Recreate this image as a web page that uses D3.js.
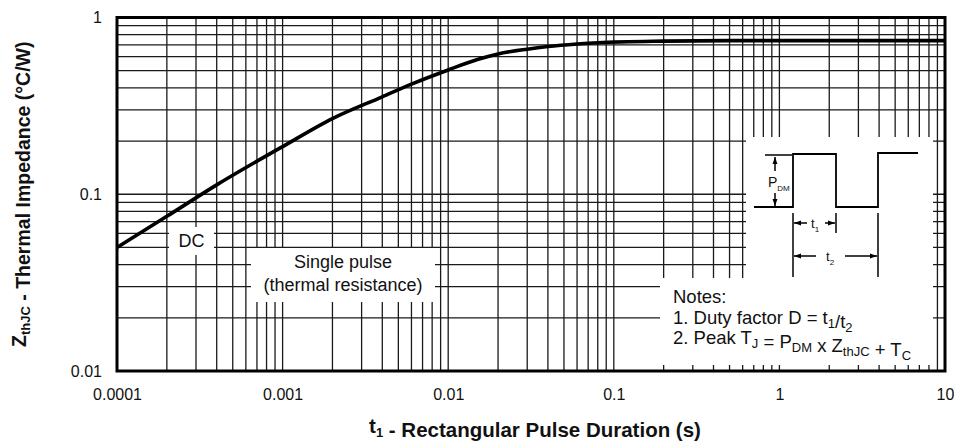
<!DOCTYPE html>
<html>
<head>
<meta charset="utf-8">
<script src="https://cdn.jsdelivr.net/npm/d3@7"></script>
<style>
  body { margin: 0; background: #fff; }
  text { font-family: "Liberation Sans", Arial, Helvetica, sans-serif; fill: #111; }
</style>
</head>
<body>
<div id="container"></div>
<script>
// values
const xTickValues = [0.0001, 0.001, 0.01, 0.1, 1, 10];
const xTickLabels = ['0.0001', '0.001', '0.01', '0.1', '1', '10'];
const yTickValues = [0.01, 0.1, 1];
const yTickLabels = ['0.01', '0.1', '1'];
const pulseDuration = [0.0001, 0.0002, 0.0004, 0.001, 0.002, 0.004, 0.006, 0.01, 0.015, 0.02, 0.03, 0.04, 0.06, 0.08, 0.2, 0.5, 1, 3, 10];
const zthjc = [0.050, 0.075, 0.113, 0.186, 0.268, 0.356, 0.42, 0.505, 0.578, 0.622, 0.662, 0.685, 0.708, 0.72, 0.735, 0.74, 0.74, 0.74, 0.74];

let w = 954,
    h = 444;
let margin = {top: 17.5, right: 9, bottom: 73, left: 117};

let svg = d3.select('#container')
    .append('svg')
      .attr('width', w)
      .attr('height', h)
      .style('display', 'block')
      .style('background', '#fff');

let x = d3.scaleLog().domain([0.0001, 10]).range([margin.left, w - margin.right]);
let y = d3.scaleLog().domain([0.01, 1]).range([h - margin.bottom, margin.top]);

function sub(t, base, s, size) {
    // base text followed by a lowered smaller subscript
    t.append('tspan').text(base);
    t.append('tspan').attr('dy', 4).attr('font-size', size).text(s);
    t.append('tspan').attr('dy', -4).text('');
}

function main() {
    // grid
    let grid = svg.append('g').attr('stroke', '#1a1a1a').attr('stroke-width', 1.3);
    grid.selectAll('line.v')
        .data(x.ticks().filter(d => d > 0.0001 * 1.01 && d < 10 * 0.99))
        .join('line')
          .attr('x1', d => x(d)).attr('x2', d => x(d))
          .attr('y1', y(1)).attr('y2', y(0.01));
    grid.selectAll('line.h')
        .data(y.ticks().filter(d => d > 0.0101 && d < 0.99))
        .join('line')
          .attr('y1', d => y(d)).attr('y2', d => y(d))
          .attr('x1', x(0.0001)).attr('x2', x(10));

    // white label boxes over the grid
    let boxes = svg.append('g').attr('fill', '#fff');
    boxes.append('rect').attr('x', 169).attr('y', 227).attr('width', 45).attr('height', 28);
    boxes.append('rect').attr('x', 251).attr('y', 248).attr('width', 184).attr('height', 54);
    boxes.append('rect').attr('x', 746).attr('y', 137).attr('width', 187).attr('height', 143);
    boxes.append('rect').attr('x', 660).attr('y', 278).attr('width', 273).attr('height', 87);

    // curve
    let line = d3.line()
        .x(d => x(d[0]))
        .y(d => y(d[1]))
        .curve(d3.curveMonotoneX);
    svg.append('path')
        .datum(d3.zip(pulseDuration, zthjc))
        .attr('d', line)
        .attr('fill', 'none')
        .attr('stroke', '#000')
        .attr('stroke-width', 3.6)
        .attr('stroke-linejoin', 'round');

    // frame
    svg.append('rect')
        .attr('x', x(0.0001)).attr('y', y(1))
        .attr('width', x(10) - x(0.0001))
        .attr('height', y(0.01) - y(1))
        .attr('fill', 'none')
        .attr('stroke', '#000')
        .attr('stroke-width', 3);

    // tick labels
    let xAxis = d3.axisBottom(x)
        .tickValues(xTickValues)
        .tickFormat((d, i) => xTickLabels[i])
        .tickSize(0)
        .tickPadding(18);
    svg.append('g')
        .attr('transform', 'translate(0,' + y(0.01) + ')')
        .call(xAxis)
        .call(g => g.select('.domain').remove())
        .selectAll('text')
          .attr('font-size', 16)
          .attr('font-family', '"Liberation Sans", Arial, sans-serif')
          .attr('fill', '#111');

    let yAxis = d3.axisLeft(y)
        .tickValues(yTickValues)
        .tickFormat((d, i) => yTickLabels[i])
        .tickSize(0)
        .tickPadding(15);
    svg.append('g')
        .attr('transform', 'translate(' + x(0.0001) + ',0)')
        .call(yAxis)
        .call(g => g.select('.domain').remove())
        .selectAll('text')
          .attr('font-size', 16)
          .attr('font-family', '"Liberation Sans", Arial, sans-serif')
          .attr('fill', '#111');

    // axis titles
    let xt = svg.append('text')
        .attr('x', (x(0.0001) + x(10)) / 2 + 4)
        .attr('y', 433)
        .attr('text-anchor', 'middle')
        .attr('font-size', 20.5)
        .attr('font-weight', 'bold');
    sub(xt, 't', '1', 13);
    xt.append('tspan').text(' - Rectangular Pulse Duration (s)');

    let yt = svg.append('text')
        .attr('transform', 'translate(26,' + (y(0.01) + y(1)) / 2 + ') rotate(-90)')
        .attr('text-anchor', 'middle')
        .attr('font-size', 19.5)
        .attr('font-weight', 'bold');
    sub(yt, 'Z', 'thJC', 13);
    yt.append('tspan').text(' - Thermal Impedance (°C/W)');

    // in-plot labels
    svg.append('text').attr('x', 191.5).attr('y', 247)
        .attr('text-anchor', 'middle').attr('font-size', 18).text('DC');
    svg.append('text').attr('x', 343).attr('y', 268)
        .attr('text-anchor', 'middle').attr('font-size', 18).text('Single pulse');
    svg.append('text').attr('x', 343).attr('y', 291)
        .attr('text-anchor', 'middle').attr('font-size', 18).text('(thermal resistance)');

    // notes
    let notes = svg.append('g').attr('font-size', 18.5);
    notes.append('text').attr('x', 673).attr('y', 303).text('Notes:');
    let n1 = notes.append('text').attr('x', 673).attr('y', 324);
    n1.append('tspan').text('1. Duty factor D = ');
    sub(n1, 't', '1', 13);
    n1.append('tspan').text('/');
    sub(n1, 't', '2', 13);
    let n2 = notes.append('text').attr('x', 673).attr('y', 344);
    n2.append('tspan').text('2. Peak ');
    sub(n2, 'T', 'J', 13);
    n2.append('tspan').text(' = ');
    sub(n2, 'P', 'DM', 13);
    n2.append('tspan').text(' x ');
    sub(n2, 'Z', 'thJC', 13);
    n2.append('tspan').text(' + ');
    sub(n2, 'T', 'C', 13);

    // pulse waveform inset
    let inset = svg.append('g');
    let defs = svg.append('defs');
    defs.append('marker')
        .attr('id', 'arr')
        .attr('viewBox', '0 0 10 10')
        .attr('refX', 10).attr('refY', 5)
        .attr('markerWidth', 7).attr('markerHeight', 7)
        .attr('markerUnits', 'userSpaceOnUse')
        .attr('orient', 'auto')
      .append('path')
        .attr('d', 'M0,1.5 L10,5 L0,8.5 Z')
        .attr('fill', '#000');

    let wave = [[754, 207], [793, 207], [793, 154], [836, 154], [836, 207], [878, 207], [878, 153], [918, 153]];
    inset.append('path')
        .attr('d', d3.line()(wave))
        .attr('fill', 'none').attr('stroke', '#000').attr('stroke-width', 1.8);

    let thin = inset.append('g').attr('stroke', '#000').attr('stroke-width', 1.5).attr('fill', 'none');
    thin.append('line').attr('x1', 765).attr('x2', 792).attr('y1', 155).attr('y2', 155);
    thin.append('line').attr('x1', 775).attr('x2', 775).attr('y1', 171).attr('y2', 157).attr('marker-end', 'url(#arr)');
    thin.append('line').attr('x1', 775).attr('x2', 775).attr('y1', 193).attr('y2', 206).attr('marker-end', 'url(#arr)');
    thin.append('line').attr('x1', 793).attr('x2', 793).attr('y1', 213).attr('y2', 277);
    thin.append('line').attr('x1', 836).attr('x2', 836).attr('y1', 213).attr('y2', 233);
    thin.append('line').attr('x1', 878).attr('x2', 878).attr('y1', 213).attr('y2', 277);
    thin.append('line').attr('x1', 807).attr('x2', 794).attr('y1', 223).attr('y2', 223).attr('marker-end', 'url(#arr)');
    thin.append('line').attr('x1', 825).attr('x2', 835).attr('y1', 223).attr('y2', 223).attr('marker-end', 'url(#arr)');
    thin.append('line').attr('x1', 816).attr('x2', 794).attr('y1', 256).attr('y2', 256).attr('marker-end', 'url(#arr)');
    thin.append('line').attr('x1', 845).attr('x2', 877).attr('y1', 256).attr('y2', 256).attr('marker-end', 'url(#arr)');

    let pdm = inset.append('text').attr('x', 768).attr('y', 187).attr('font-size', 14);
    sub(pdm, 'P', 'DM', 8);
    let t1 = inset.append('text').attr('x', 811).attr('y', 228).attr('font-size', 13);
    sub(t1, 't', '1', 8);
    let t2 = inset.append('text').attr('x', 826).attr('y', 261).attr('font-size', 13);
    sub(t2, 't', '2', 8);
}

main();
</script>
</body>
</html>
